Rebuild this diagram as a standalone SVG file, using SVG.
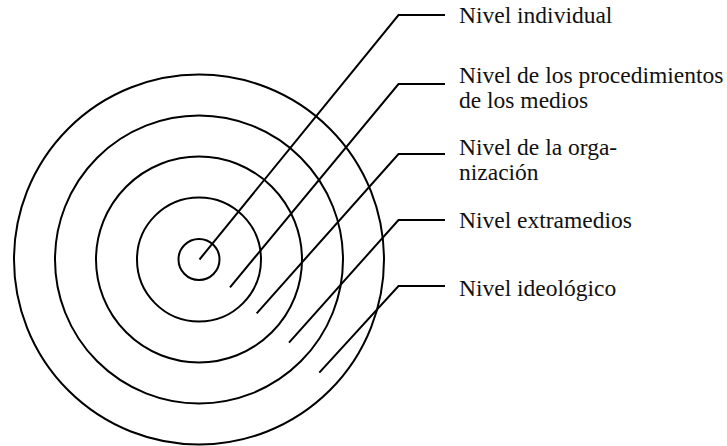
<svg xmlns="http://www.w3.org/2000/svg" width="727" height="446" viewBox="0 0 727 446">
<style>
.ring{fill:none;stroke:#000;stroke-width:2}
.lead{fill:none;stroke:#000;stroke-width:2;stroke-linejoin:miter}
.lbl{font-family:'Liberation Serif','DejaVu Serif',serif;font-size:23.5px;fill:#111}
</style>
<rect width="727" height="446" fill="#fff"/>
<g id="rings">
<circle id="ring-individual" class="ring" cx="199" cy="259.5" r="20.5"/>
<circle id="ring-procedimientos" class="ring" cx="199" cy="259.5" r="62"/>
<circle id="ring-organizacion" class="ring" cx="199" cy="259.5" r="103"/>
<circle id="ring-extramedios" class="ring" cx="199" cy="259.5" r="144"/>
<circle id="ring-ideologico" class="ring" cx="199" cy="259.5" r="185"/>
</g>
<g id="connectors">
<polyline class="lead" points="199.5,259.5 398.5,15 445,15"/>
<polyline class="lead" points="230,287.3 398.5,84 445,84"/>
<polyline class="lead" points="256.7,313.3 398.5,154 445,154"/>
<polyline class="lead" points="289,342.7 398.5,220 445,220"/>
<polyline class="lead" points="319.3,372.7 398.5,286 445,286"/>
</g>
<g id="label-individual"><text class="lbl" x="459" y="23">Nivel individual</text></g>
<g id="label-procedimientos"><text class="lbl" x="459" y="83">Nivel de los procedimientos</text><text class="lbl" x="459" y="108">de los medios</text></g>
<g id="label-organizacion"><text class="lbl" x="459" y="155">Nivel de la orga-</text><text class="lbl" x="459" y="180">nización</text></g>
<g id="label-extramedios"><text class="lbl" x="459" y="228">Nivel extramedios</text></g>
<g id="label-ideologico"><text class="lbl" x="459" y="296">Nivel ideológico</text></g>
</svg>
